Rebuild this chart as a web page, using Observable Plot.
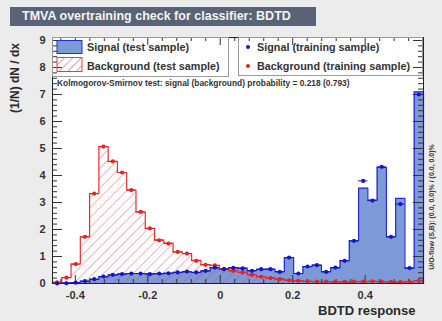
<!DOCTYPE html>
<html>
<head>
<meta charset="utf-8">
<script src="https://cdn.jsdelivr.net/npm/d3@7"></script>
<script src="https://cdn.jsdelivr.net/npm/@observablehq/plot@0.6"></script>
<style>
  body { margin: 0; background: #ececec; }
  #wrap { position: relative; width: 442px; height: 321px; background: #ececec; overflow: hidden;
          font-family: "Liberation Sans", Arial, sans-serif; color: #2a2a2a; }
  #chart { position: absolute; left: 0; top: 0; }
  .abs { position: absolute; white-space: nowrap; }
  #title { left: 10px; top: 7px; width: 306px; height: 19px; background: #586375; color: #f4f4f4;
           font-weight: bold; font-size: 12.5px; line-height: 19px; padding-left: 12px; box-sizing: border-box; }
  .legbox { border: 1px solid #9a9a9a; box-sizing: border-box; }
  .legtxt { font-size: 10.8px; font-weight: bold; color: #333; }
  #ks { left: 57px; top: 78px; font-size: 8.4px; font-weight: bold; color: #333; }
  #ylab { left: 15px; top: 78px; transform: translate(-50%, -50%) rotate(-90deg); font-size: 12px; font-weight: bold; }
  #xlab { left: 318px; top: 303px; font-size: 13px; font-weight: bold; }
  #uo { left: 431px; top: 207px; transform: translate(-50%, -50%) rotate(-90deg); font-size: 7px; font-weight: bold; color: #333; }
</style>
</head>
<body>
<div id="wrap">
  <div id="chart"></div>
  <div id="title" class="abs">TMVA overtraining check for classifier: BDTD</div>
  <div class="abs legbox" style="left:52px;top:37px;width:177px;height:40px;"></div>
  <div class="abs legbox" style="left:238px;top:37px;width:185px;height:39px;"></div>
  <svg class="abs" style="left:56px;top:40px" width="28" height="34">
    <defs>
      <pattern id="hatchLeg" patternUnits="userSpaceOnUse" width="6" height="6" patternTransform="rotate(45)">
        <line x1="0" y1="0" x2="0" y2="6" stroke="#e23a3a" stroke-width="1.4" stroke-opacity="0.75"/>
      </pattern>
    </defs>
    <rect x="1" y="0.5" width="25" height="13" fill="#7d99d8" stroke="#2233cc" stroke-width="1"/>
    <rect x="1" y="17.5" width="25" height="14" fill="url(#hatchLeg)" stroke="#e04040" stroke-width="1"/>
  </svg>
  <div class="abs legtxt" style="left:87px;top:41px;">Signal (test sample)</div>
  <div class="abs legtxt" style="left:87px;top:60px;">Background (test sample)</div>
  <svg class="abs" style="left:243px;top:42px" width="10" height="30">
    <circle cx="5" cy="5" r="2" fill="#1515c8"/>
    <circle cx="5" cy="24" r="2" fill="#e02424"/>
  </svg>
  <div class="abs legtxt" style="left:257px;top:41px;">Signal (training sample)</div>
  <div class="abs legtxt" style="left:257px;top:60px;">Background (training sample)</div>
  <div id="ks" class="abs">Kolmogorov-Smirnov test: signal (background) probability = 0.218 (0.793)</div>
  <div id="ylab" class="abs">(1/N) dN / dx</div>
  <div id="xlab" class="abs">BDTD response</div>
  <div id="uo" class="abs">U/O-flow (S,B): (0.0, 0.0)% / (0.0, 0.0)%</div>
</div>
<script>
// ---- data ----
const xMin = -0.463;
const xMax = 0.561;
const nBins = 40;

const signalTest = [0.00, 0.02, 0.03, 0.08, 0.15, 0.24, 0.31, 0.35, 0.37, 0.37,
                    0.36, 0.36, 0.38, 0.41, 0.43, 0.41, 0.46, 0.58, 0.55, 0.59,
                    0.57, 0.48, 0.52, 0.53, 0.44, 0.96, 0.37, 0.62, 0.68, 0.44,
                    0.58, 0.85, 1.58, 3.53, 3.09, 4.30, 1.73, 3.15, 0.57, 7.10];
const signalTrain = [0.00, 0.01, 0.03, 0.09, 0.16, 0.26, 0.32, 0.35, 0.37, 0.37,
                     0.35, 0.37, 0.38, 0.41, 0.44, 0.41, 0.47, 0.59, 0.53, 0.58,
                     0.56, 0.47, 0.53, 0.53, 0.43, 0.96, 0.37, 0.63, 0.68, 0.43,
                     0.59, 0.84, 1.58, 3.80, 3.07, 4.32, 1.73, 2.94, 0.57, 7.00];
const bkgTest = [0.05, 0.22, 0.72, 1.73, 3.33, 5.07, 4.52, 4.11, 3.46, 2.65,
                 2.04, 1.62, 1.50, 1.17, 1.11, 0.86, 0.70, 0.67, 0.55, 0.47,
                 0.41, 0.33, 0.26, 0.21, 0.17, 0.13, 0.10, 0.08, 0.07, 0.07,
                 0.06, 0.06, 0.07, 0.07, 0.08, 0.07, 0.06, 0.05, 0.06, 0.10];
const bkgTrain = [0.04, 0.22, 0.72, 1.73, 3.33, 5.07, 4.52, 4.11, 3.46, 2.65,
                  2.04, 1.60, 1.48, 1.17, 1.11, 0.84, 0.69, 0.67, 0.53, 0.47,
                  0.41, 0.32, 0.25, 0.20, 0.16, 0.12, 0.10, 0.08, 0.07, 0.07,
                  0.06, 0.06, 0.07, 0.07, 0.08, 0.07, 0.06, 0.05, 0.06, 0.10];

const xTickLabels = [-0.4, -0.2, 0, 0.2, 0.4];
const yTickLabels = [0, 1, 2, 3, 4, 5, 6, 7, 8, 9];

// ---- derived tables ----
const binW = (xMax - xMin) / nBins;
const edges = d3.range(nBins + 1).map(i => xMin + i * binW);
function stepData(h) {
  return [{x: edges[0], y: 0}, ...h.map((v, i) => ({x: edges[i], y: v})),
          {x: edges[nBins], y: h[nBins - 1]}, {x: edges[nBins], y: 0}];
}
function pointData(h) {
  return h.map((v, i) => ({x1: edges[i], x2: edges[i + 1], x: (edges[i] + edges[i + 1]) / 2, y: v}));
}
const sigStep = stepData(signalTest);
const bkgStep = stepData(bkgTest);
const sigPts = pointData(signalTrain);
const bkgPts = pointData(bkgTrain);

const W = 442, H = 321, mL = 52, mR = 19, mT = 37, mB = 38;
const innerH = H - mT - mB, innerW = W - mL - mR;
const yMax = 9.11;
const xMinor = d3.range(-0.44, 0.561, 0.04).filter(v => !xTickLabels.some(t => Math.abs(t - v) < 1e-6));
const yMinor = d3.range(0, yMax, 0.2).filter(v => Math.abs(v - Math.round(v)) > 1e-6);

const sigFill = "#7d99d8", sigLine = "#1f2fd0", sigPt = "#1515c8";
const bkgLine = "#e23030", bkgPt = "#e02424";
const tickCol = "#333";

const chart = Plot.plot({
  width: W, height: H,
  marginLeft: mL, marginRight: mR, marginTop: mT, marginBottom: mB,
  style: {background: "transparent", fontFamily: "Liberation Sans, Arial, sans-serif"},
  x: {domain: [xMin, xMax]},
  y: {domain: [0, yMax]},
  marks: [
    Plot.frame({fill: "white"}),
    Plot.areaY(sigStep, {x: "x", y: "y", curve: "step-after", fill: sigFill}),
    Plot.areaY(bkgStep, {x: "x", y: "y", curve: "step-after", fill: "url(#hatch)"}),
    Plot.lineY(sigStep, {x: "x", y: "y", curve: "step-after", stroke: sigLine, strokeWidth: 1.2}),
    Plot.lineY(bkgStep, {x: "x", y: "y", curve: "step-after", stroke: bkgLine, strokeWidth: 1.2}),
    // axis ticks drawn inward (ROOT style), bottom/top/left/right
    Plot.ruleX(xTickLabels, {insetTop: innerH - 8, stroke: tickCol}),
    Plot.ruleX(xMinor, {insetTop: innerH - 4, stroke: tickCol}),
    Plot.ruleX(xTickLabels, {insetBottom: innerH - 8, stroke: tickCol}),
    Plot.ruleX(xMinor, {insetBottom: innerH - 4, stroke: tickCol}),
    Plot.ruleY(yTickLabels, {insetRight: innerW - 10, stroke: tickCol}),
    Plot.ruleY(yMinor, {insetRight: innerW - 5, stroke: tickCol}),
    Plot.ruleY(yTickLabels, {insetLeft: innerW - 10, stroke: tickCol}),
    Plot.ruleY(yMinor, {insetLeft: innerW - 5, stroke: tickCol}),
    // training sample points with bin-width error bars
    Plot.ruleY(bkgPts, {x1: "x1", x2: "x2", y: "y", stroke: bkgPt, strokeWidth: 1}),
    Plot.dot(bkgPts, {x: "x", y: "y", r: 2.1, fill: bkgPt}),
    Plot.ruleY(sigPts, {x1: "x1", x2: "x2", y: "y", stroke: sigPt, strokeWidth: 1}),
    Plot.dot(sigPts, {x: "x", y: "y", r: 2.1, fill: sigPt}),
    Plot.axisX(xTickLabels, {tickSize: 0, tickPadding: 8, fontSize: 11, fontWeight: "bold", fill: "#333",
                             tickFormat: d => d === 0 ? "0" : d.toFixed(1), label: null}),
    Plot.axisY(yTickLabels, {tickSize: 0, tickPadding: 7, fontSize: 11, fontWeight: "bold", fill: "#333",
                             tickFormat: d => String(d), label: null}),
    Plot.frame({stroke: "#222", strokeWidth: 1})
  ]
});

// hatch pattern for the background histogram
const defs = d3.select(chart).insert("defs", ":first-child");
const pat = defs.append("pattern").attr("id", "hatch").attr("patternUnits", "userSpaceOnUse")
  .attr("width", 7).attr("height", 7).attr("patternTransform", "rotate(45)");
pat.append("line").attr("x1", 0).attr("y1", 0).attr("x2", 0).attr("y2", 7)
  .attr("stroke", "#e23a3a").attr("stroke-width", 1.1).attr("stroke-opacity", 0.7);

document.getElementById("chart").appendChild(chart);
</script>
</body>
</html>
